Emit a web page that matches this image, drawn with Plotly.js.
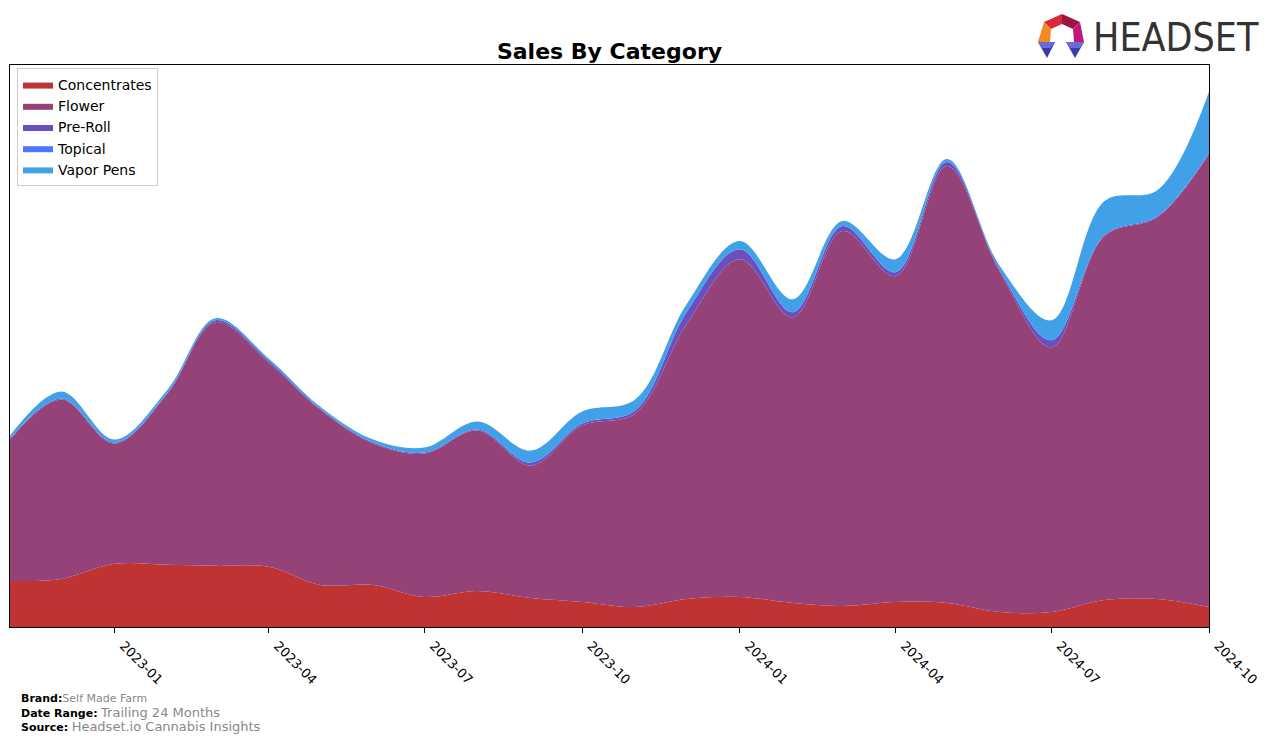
<!DOCTYPE html>
<html>
<head>
<meta charset="utf-8">
<script src="https://cdn.plot.ly/plotly-3.0.1.min.js"></script>
<style>html,body{margin:0;padding:0;background:#fff;}#chart{width:1276px;height:742px;}</style>
</head>
<body>
<div id="chart"></div>
<script>
// Monthly data (arbitrary units)
const months = ['2022-11-01','2022-12-01','2023-01-01','2023-02-01','2023-03-01','2023-04-01',
  '2023-05-01','2023-06-01','2023-07-01','2023-08-01','2023-09-01','2023-10-01',
  '2023-11-01','2023-12-01','2024-01-01','2024-02-01','2024-03-01','2024-04-01',
  '2024-05-01','2024-06-01','2024-07-01','2024-08-01','2024-09-01','2024-10-01'];
const concentrates = [46,48,63,62,61,60,42,42,30,36,29,25,20,28,30,24,21,25,24,15,15,27,28,20];
const flower       = [141,179,120,171,243,204,175,141,143,160,132,176,193,274,337,285,374,325,436,339,264,363,381,452];
const preRoll      = [1,1,1,1,2,2,1,1,1,1,3,2,3,12,10,5,5,4,4,2,7,1,1,1];
const topical      = [0,0,0,0,0,0,0,0,0,0,0,0,0,0,0,0,0,0,0,0,0,0,0,0];
const vaporPens    = [3,7,3,3,2,2,2,3,5,8,12,12,11,8,8,13,5,13,3,4,20,34,26,61];

const seriesNames = ['Concentrates','Flower','Pre-Roll','Topical','Vapor Pens'];
const seriesData = [concentrates, flower, preRoll, topical, vaporPens];
const seriesColors = ['#c03333','#954278','#6b4fbe','#4a78ff','#41a1e8'];

const traces = seriesNames.map((n,i)=>({
  type:'scatter', mode:'lines', name:n, x:months, y:seriesData[i],
  stackgroup:'one', line:{shape:'spline', smoothing:1, width:0, color:seriesColors[i]},
  fillcolor:seriesColors[i], hoverinfo:'skip'
}));

const totals = months.map((_,k)=>seriesData.reduce((s,a)=>s+a[k],0));
const ymax = Math.max(...totals)*1.05;

// pixel -> paper helpers for decorations
const L=10,R=1209,T=65,B=627;
const px=(x)=>(x-L)/(R-L), py=(y)=>(B-y)/(B-T);
function poly(pts,color){
  let d='M '+pts.map(p=>px(p[0]).toFixed(5)+','+py(p[1]).toFixed(5)).join(' L ')+' Z';
  return {type:'path', xref:'paper', yref:'paper', path:d, fillcolor:color, line:{width:0}, layer:'above'};
}
const logoShapes = [
  poly([[1044,22],[1062,14],[1062,24],[1051,29]],'#d8283c'),
  poly([[1062,14],[1080,22],[1073,29],[1062,24]],'#a01540'),
  poly([[1044,22],[1051,29],[1050,42],[1038,42]],'#f28a22'),
  poly([[1080,22],[1084,42],[1074,42],[1073,29]],'#c2187c'),
  poly([[1038,42],[1055,42],[1047,58]],'#3c3aa6'),
  poly([[1038,42],[1055,42],[1050,48],[1042,48]],'#6a6ad8'),
  poly([[1066,42],[1084,42],[1075,58]],'#3c3aa6'),
  poly([[1066,42],[1084,42],[1080,48],[1070,48]],'#6a6ad8')
];

const foot = {family:'DejaVu Sans', size:11, color:'#000'};
const annotations = [
  {xref:'paper', yref:'paper', x:px(19), y:py(698), xanchor:'left', yanchor:'middle', showarrow:false, font:foot,
   text:"<b>Brand:</b><span style='color:#888'>Self Made Farm</span>"},
  {xref:'paper', yref:'paper', x:px(19), y:py(712), xanchor:'left', yanchor:'middle', showarrow:false, font:foot,
   text:"<b>Date Range:</b> <span style='color:#888;font-size:13px'>Trailing 24 Months</span>"},
  {xref:'paper', yref:'paper', x:px(19), y:py(726), xanchor:'left', yanchor:'middle', showarrow:false, font:foot,
   text:"<b>Source:</b> <span style='color:#888;font-size:13px'>Headset.io Cannabis Insights</span>"},
  {xref:'paper', yref:'paper', x:px(1091), y:py(38), xanchor:'left', yanchor:'middle', showarrow:false,
   font:{family:'DejaVu Sans Condensed, DejaVu Sans', size:39, color:'#333333'},
   text:'HEADSET'}
];

const layout = {
  width:1276, height:742, autosize:false,
  margin:{l:L, r:1276-R, t:T, b:742-B, pad:0},
  paper_bgcolor:'#fff', plot_bgcolor:'#fff',
  font:{family:'DejaVu Sans', size:13, color:'#000'},
  title:{text:'<b>Sales By Category</b>', font:{family:'DejaVu Sans', size:22, color:'#000'},
         xref:'paper', x:0.5, xanchor:'center', yref:'container', y:1-51/742, yanchor:'middle'},
  showlegend:true,
  legend:{x:px(17), y:py(68), xanchor:'left', yanchor:'top', traceorder:'normal',
          bgcolor:'rgba(255,255,255,0.8)', bordercolor:'#cccccc', borderwidth:1,
          font:{family:'DejaVu Sans', size:14, color:'#000'}},
  xaxis:{type:'date', range:[months[0], months[months.length-1]], tick0:'2023-01-01', dtick:'M3',
         tickformat:'%Y-%m', tickangle:45, ticks:'outside', ticklen:5, tickcolor:'#000',
         ticklabelshift:9,
         showgrid:false, zeroline:false, showline:true, mirror:true, linecolor:'#000', linewidth:1,
         tickfont:{family:'DejaVu Sans', size:13, color:'#000'}},
  yaxis:{range:[0, ymax], showticklabels:false, ticks:'', showgrid:false, zeroline:false,
         showline:true, mirror:true, linecolor:'#000', linewidth:1},
  shapes:logoShapes,
  annotations:annotations
};

Plotly.newPlot('chart', traces, layout, {staticPlot:true, displayModeBar:false});
</script>
</body>
</html>
